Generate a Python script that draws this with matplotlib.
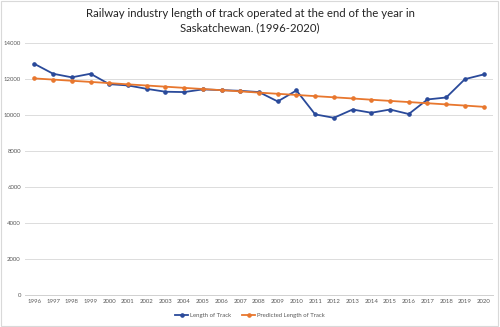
import numpy as np
from matplotlib import pyplot as plt

years = [str(y) for y in range(1996, 2021)]
track = [12850, 12300, 12100, 12300, 11720, 11650, 11460, 11300, 11280, 11430,
         11390, 11350, 11280, 10760, 11370, 10040, 9850, 10310, 10130, 10310,
         10060, 10870, 10980, 12000, 12260]
predicted = [12040, 11975, 11910, 11845, 11780, 11710, 11645, 11580, 11515, 11450,
             11385, 11320, 11250, 11185, 11120, 11055, 10990, 10925, 10855, 10790,
             10725, 10660, 10595, 10530, 10460]

plt.rcParams['font.family'] = ['Lato', 'DejaVu Sans']

fig = plt.figure(figsize=(5, 3.27), dpi=100)
ax = fig.add_axes([0.05, 0.098, 0.936, 0.77])

x = np.arange(len(years))
ax.plot(x, track, color="#2a4a9a", lw=1.3, marker="o", ms=2.3, label="Length of Track")
ax.plot(x, predicted, color="#e8772e", lw=1.3, marker="o", ms=2.3, label="Predicted Length of Track")

ax.set_xlim(-0.5, len(years) - 0.5)
ax.set_ylim(0, 14000)
ax.set_yticks(range(0, 14001, 2000))
ax.set_xticks(x)
ax.set_xticklabels(years)
ax.tick_params(length=0, labelsize=4.3, colors="#595959", pad=3)
ax.grid(axis="y", color="#dcdcdc", lw=0.7)
ax.set_axisbelow(True)
for s in ["top", "right", "left"]:
    ax.spines[s].set_visible(False)
ax.spines["bottom"].set_color("#d0d0d0")
ax.spines["bottom"].set_linewidth(0.7)

fig.suptitle("Railway industry length of track operated at the end of the year in\nSaskatchewan. (1996-2020)",
             y=0.975, fontsize=8.2, color="#262626", linespacing=1.35)

fig.legend(loc="center", bbox_to_anchor=(0.5, 0.035), ncol=2, frameon=False,
           fontsize=4.3, labelcolor="#595959", handlelength=2.2, handletextpad=0.3,
           columnspacing=1.8)

fig.patches.append(plt.Rectangle((0.002, 0.004), 0.994, 0.992, transform=fig.transFigure,
                                 fill=False, ec="#d9d9d9", lw=0.8))

plt.savefig("out.png", dpi=100)
